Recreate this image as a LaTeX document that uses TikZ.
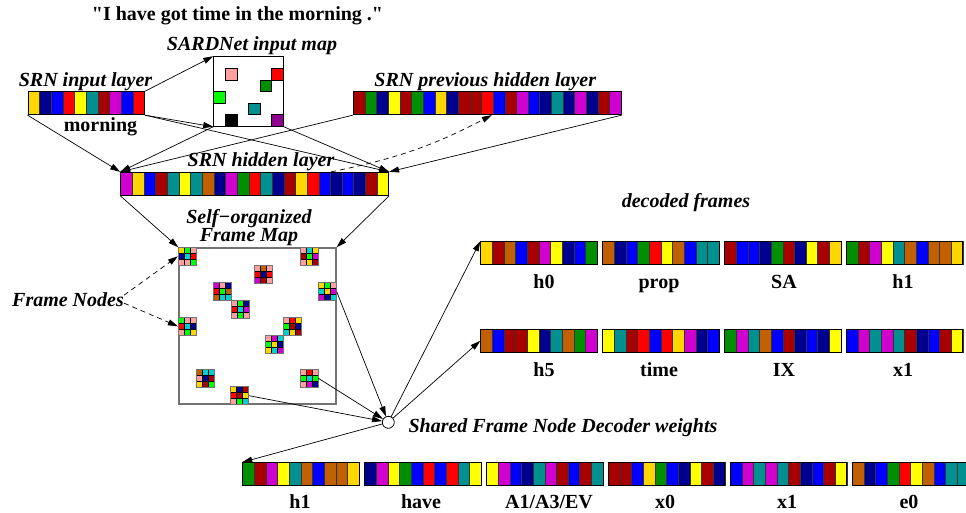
\documentclass[tikz,border=0pt]{standalone}
\usepackage{fontspec}
\setmainfont{Liberation Serif}
\usetikzlibrary{arrows.meta}

\definecolor{cgold}{HTML}{FFD700}
\definecolor{cnavy}{HTML}{00008F}
\definecolor{cblue}{HTML}{0000FF}
\definecolor{cred}{HTML}{FF0000}
\definecolor{cyellow}{HTML}{FFFF00}
\definecolor{cteal}{HTML}{009090}
\definecolor{cdkred}{HTML}{A80000}
\definecolor{cmag}{HTML}{D000D0}
\definecolor{cgreen}{HTML}{008F00}
\definecolor{corange}{HTML}{C06000}
\definecolor{cpink}{HTML}{FFA0A0}
\definecolor{clime}{HTML}{00FF00}
\definecolor{ccyan}{HTML}{00D0D0}
\definecolor{cpurple}{HTML}{8F008F}

% row of coloured units: name, left, top, number of units, colours
\newcommand{\cellbar}[5]{%
  \foreach \cc [count=\ix from 0] in {#5}{
    \filldraw[fill=\cc, draw=black!80, line width=0.5pt]
      ({#2+\ix*11.65},#3) rectangle ++(11.65,23);
  }
  \node[barbox, minimum width={#4*11.65pt}] (#1) at ({#2+#4*5.825},{#3+11.5}) {};
}

% 3x3 frame node: name, left, top, colours
\newcommand{\framenode}[4]{%
  \foreach \cc [count=\ix from 0] in {#4}{
    \pgfmathtruncatemacro{\cx}{mod(\ix,3)}
    \pgfmathtruncatemacro{\cy}{int(\ix/3)}
    \filldraw[fill=\cc, draw=black, line width=0.6pt]
      ({#2+\cx*6},{#3+\cy*6}) rectangle ++(6,6);
  }
  \node[fnbox] (#1) at ({#2+9},{#3+9}) {};
}

\begin{document}
\begin{tikzpicture}[x=1pt, y=-1pt, font=\fontsize{20}{17}\selectfont\bfseries,
  lab/.style={inner sep=0pt, anchor=base},
  ilab/.style={lab, font=\fontsize{20}{17}\selectfont\bfseries\itshape},
  barbox/.style={draw=black, line width=0.9pt, minimum height=23pt, inner sep=0pt},
  fnbox/.style={draw=black!55, line width=0.8pt, minimum size=18pt, inner sep=0pt},
  arr/.style={-{Triangle[length=10pt,width=6pt]}, line width=0.7pt},
  darr/.style={arr, dash pattern=on 5pt off 4pt}]

  \useasboundingbox (0,0) rectangle (966,512);

  % sentence and layer names
  \node[lab] (quote) at (237.5,20)
    {\textquotedbl I have got time in the morning .\textquotedbl};
  \node[ilab] (lsard) at (252,50.7) {SARDNet input map};
  \node[ilab] (lin) at (85.5,86) {SRN input layer};
  \node[lab] (lword) at (100.5,131.5) {morning};
  \node[ilab] (lprev) at (485.3,86) {SRN previous hidden layer};
  \node[ilab] (lhid) at (261,166.7) {SRN hidden layer};
  \node[ilab, anchor=south, align=center] (lfmap) at (249,246)
    {Self−organized\\Frame Map};
  \node[ilab] (lfnodes) at (68,306) {Frame Nodes};
  \node[ilab] (ldecoded) at (686,207) {decoded frames};
  \node[ilab] (lshared) at (563,432) {Shared Frame Node Decoder weights};

  % SARDNet input map
  \foreach \sx/\sy/\cc in {1/1/cpink, 5/1/cred, 4/2/cgreen, 0/3/clime,
                           3/4/cteal, 1/5/black, 5/5/cpurple}{
    \filldraw[fill=\cc, draw=black, line width=0.7pt]
      ({213.7+\sx*11.6},{56.7+\sy*11.6}) rectangle ++(11.6,11.6);
  }
  \node[draw=black, line width=0.9pt, minimum size=69.6pt, inner sep=0pt]
    (sardmap) at (248.5,91.5) {};

  % SRN layers
  \cellbar{inbar}{28}{91.7}{10}{cgold,cnavy,cblue,cred,cyellow,cteal,cdkred,cmag,cblue,cred}
  \cellbar{prevbar}{353.3}{91.7}{23}{cdkred,cgreen,cnavy,cyellow,cdkred,cgreen,cblue,cgold,
    cnavy,cdkred,cdkred,cred,cblue,cdkred,cmag,cblue,cnavy,cteal,cnavy,cmag,cnavy,cdkred,cmag}
  \cellbar{hidbar}{120.7}{172.3}{23}{cmag,cgold,cblue,cdkred,cteal,cyellow,cteal,corange,
    cnavy,cmag,cgreen,cred,cteal,cnavy,cdkred,cgold,cred,cblue,cnavy,cblue,cnavy,cdkred,cyellow}

  % frame map
  \node[draw=black!55, line width=1.4pt, minimum width=157pt, minimum height=156pt,
    inner sep=0pt] (fmap) at (257.5,326) {};
  \framenode{fn1}{178.3}{247.3}{cgold,clime,cpink,cnavy,ccyan,cred,cpink,cpink,clime}
  \framenode{fn2}{300.7}{247.3}{cpink,ccyan,cgold,cdkred,clime,cmag,cpink,cgold,cdkred}
  \framenode{fn3}{254.3}{265}{cpink,corange,cpink,cred,cnavy,cred,cmag,cdkred,cpink}
  \framenode{fn4}{213.3}{282.7}{cmag,cpink,cnavy,cred,clime,corange,corange,ccyan,ccyan}
  \framenode{fn5}{318.3}{282.7}{cgold,clime,cpink,ccyan,cgold,cmag,cmag,cnavy,ccyan}
  \framenode{fn6}{231}{300.3}{cpink,clime,cnavy,cred,ccyan,cmag,cpink,clime,cpink}
  \framenode{fn7}{178.3}{317.3}{clime,cpink,cpink,cred,ccyan,cnavy,cpink,clime,cgold}
  \framenode{fn8}{283.3}{317.3}{cpink,cred,cgold,clime,cdkred,cnavy,ccyan,cgold,cdkred}
  \framenode{fn9}{265.7}{335}{cpink,cmag,ccyan,clime,cgold,cnavy,cgold,ccyan,cmag}
  \framenode{fn10}{196}{369.3}{corange,ccyan,ccyan,cpink,cnavy,cdkred,cgold,cdkred,clime}
  \framenode{fn11}{300}{369.3}{cpink,cred,cpink,clime,ccyan,clime,cpink,cmag,cnavy}
  \framenode{fn12}{230.7}{386.7}{cgold,cnavy,cdkred,cred,cdkred,cgold,cpink,clime,ccyan}

  % decoder
  \node[circle, draw=black, line width=0.8pt, fill=white, minimum size=12pt,
    inner sep=0pt] (dec) at (388.3,422.3) {};

  % decoded frames
  \cellbar{dh0}{480.7}{241.7}{10}{cgold,cdkred,corange,cblue,cdkred,cmag,cyellow,cnavy,cblue,cgreen}
  \cellbar{dprop}{602.6}{241.7}{10}{corange,cnavy,cblue,cgreen,cred,cyellow,corange,cblue,cteal,cteal}
  \cellbar{dSA}{724.5}{241.7}{10}{cdkred,cblue,cblue,cnavy,cgreen,cdkred,cnavy,cyellow,cdkred,cgold}
  \cellbar{dh1}{846.4}{241.7}{10}{cgreen,cdkred,cmag,cyellow,cteal,corange,cblue,corange,corange,cgold}
  \node[lab] at (544,288) {h0};
  \node[lab] at (659,288) {prop};
  \node[lab] at (784,288) {SA};
  \node[lab] at (903,288) {h1};

  \cellbar{dh5}{480.7}{329.3}{10}{corange,cblue,cdkred,cdkred,cyellow,cnavy,cteal,corange,cgreen,cmag}
  \cellbar{dtime}{602.6}{329.3}{10}{cyellow,cteal,cdkred,cred,cblue,cred,cgold,cmag,cnavy,cblue}
  \cellbar{dIX}{724.5}{329.3}{10}{cgreen,cmag,cteal,corange,cblue,cdkred,cnavy,cblue,cnavy,cyellow}
  \cellbar{dx1}{846.4}{329.3}{10}{cblue,cmag,cteal,cmag,cteal,cdkred,cnavy,cblue,cdkred,cyellow}
  \node[lab] at (544,376) {h5};
  \node[lab] at (659,376) {time};
  \node[lab] at (784,376) {IX};
  \node[lab] at (903,376) {x1};

  \cellbar{bh1}{242.7}{462.7}{10}{cgreen,cdkred,cmag,cyellow,cteal,corange,cblue,corange,corange,cgold}
  \cellbar{bhave}{364.6}{462.7}{10}{cnavy,cmag,cyellow,cgreen,cblue,cred,cblue,cred,cteal,cyellow}
  \cellbar{bA}{486.5}{462.7}{10}{cyellow,cmag,cblue,cnavy,cteal,cmag,cdkred,cblue,cdkred,cteal}
  \cellbar{bx0}{608.4}{462.7}{10}{cdkred,cdkred,cblue,cgold,cgreen,cblue,cnavy,cyellow,cdkred,cnavy}
  \cellbar{bx1}{730.3}{462.7}{10}{cblue,cmag,cteal,cmag,cteal,cdkred,cnavy,cblue,cdkred,cyellow}
  \cellbar{be0}{852.2}{462.7}{10}{corange,cnavy,cblue,cgreen,cred,cyellow,corange,cblue,cteal,cteal}
  \node[lab] at (300,508.5) {h1};
  \node[lab] at (421,508.5) {have};
  \node[lab] at (549,508.5) {A1/A3/EV};
  \node[lab] at (665,508.5) {x0};
  \node[lab] at (787,508.5) {x1};
  \node[lab] at (909,508.5) {e0};

  % connections
  \draw[arr] (inbar.north east) -- (sardmap.north west);
  \draw[arr] (inbar.south east) -- (sardmap.south west);
  \draw[arr] (inbar.south east) -- (hidbar.north east);
  \draw[arr] (inbar.south west) -- (hidbar.north west);
  \draw[arr] (sardmap.south west) -- (hidbar.north west);
  \draw[arr] (sardmap.south east) -- (hidbar.north east);
  \draw[arr] (prevbar.south west) -- (hidbar.north west);
  \draw[arr] (prevbar.south east) -- (hidbar.north east);
  \draw[darr] ([xshift=-58pt]hidbar.north east) to[bend right=8]
    ([xshift=139pt]prevbar.south west);
  \draw[arr] (hidbar.south west) -- (fmap.north west);
  \draw[arr] (hidbar.south east) -- (fmap.north east);
  \draw[darr] ([yshift=4pt]lfnodes.east) -- (fn1.west);
  \draw[darr] ([yshift=-4pt]lfnodes.east) -- (fn7.west);
  \draw[arr] (fn5.east) -- (dec);
  \draw[arr] (fn11.east) -- (dec);
  \draw[arr] (fn12.east) -- (dec);
  \draw[arr] (dec) -- (dh0.north west);
  \draw[arr] (dec) -- (dh5.west);
  \draw[arr] (dec) -- (bh1.north west);
\end{tikzpicture}
\end{document}
